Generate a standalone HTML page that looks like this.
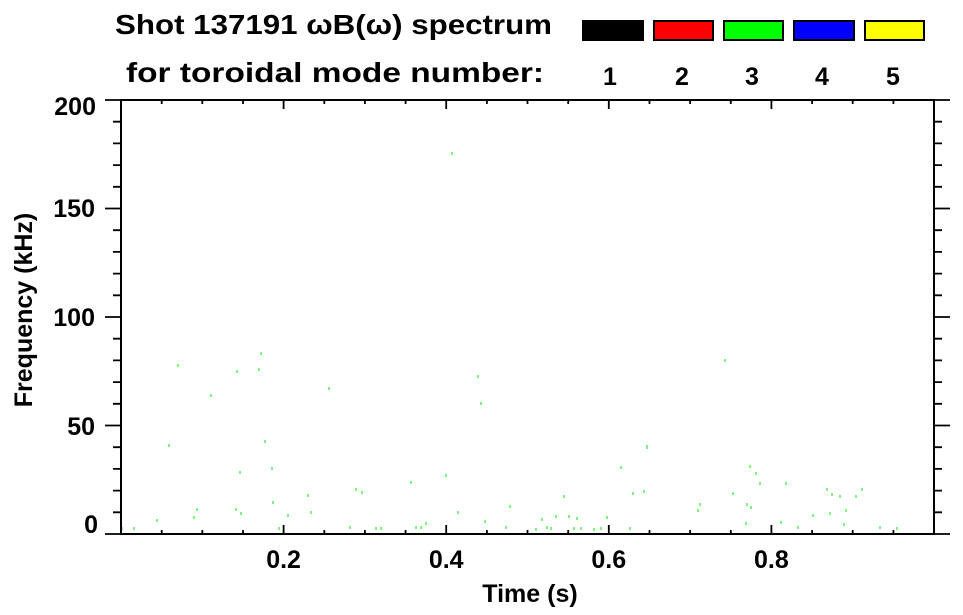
<!DOCTYPE html>
<html>
<head>
<meta charset="utf-8">
<style>
html,body{margin:0;padding:0;background:#fff;}
svg{display:block;}
text{font-family:"Liberation Sans",Arial,sans-serif;font-weight:bold;fill:#000;}
</style>
</head>
<body>
<svg width="963" height="615" viewBox="0 0 963 615" xmlns="http://www.w3.org/2000/svg">
<rect x="0" y="0" width="963" height="615" fill="#fff"/>
<text x="115" y="34" font-size="28" textLength="437" lengthAdjust="spacingAndGlyphs">Shot 137191 ωB(ω) spectrum</text>
<text x="126" y="82" font-size="28" textLength="418" lengthAdjust="spacingAndGlyphs">for toroidal mode number:</text>
<rect x="582" y="20" width="62" height="21" fill="#000"/>
<rect x="654" y="21" width="59" height="19" fill="#f00" stroke="#000" stroke-width="2"/>
<rect x="724" y="21" width="59" height="19" fill="#0f0" stroke="#000" stroke-width="2"/>
<rect x="794" y="21" width="60" height="19" fill="#00f" stroke="#000" stroke-width="2"/>
<rect x="865" y="21" width="59" height="19" fill="#ff0" stroke="#000" stroke-width="2"/>
<g font-size="25" text-anchor="middle">
<text x="610" y="85">1</text><text x="682" y="85">2</text><text x="752" y="85">3</text><text x="822" y="85">4</text><text x="893" y="85">5</text>
</g>
<path stroke="#55ee55" stroke-width="1.5" fill="none" d="M122 527v3M134 527v3M157 519v3M169 444v3M178 364v3M194 516v3M197 508v3M211 394v3M236 508v3M237 370v3M241 512v3M240 471v3M259 368v3M261 352v3M265 440v3M272 467v3M273 501v3M279 527v3M288 514v3M308 494v3M311 511v3M329 387v3M350 526v3M356 488v3M362 491v3M376 527v3M381 527v3M411 481v3M416 526v3M421 526v3M426 522v3M446 474v3M452 152v3M458 511v3M478 375v3M481 402v3M485 520v3M506 526v3M510 505v3M536 528v3M542 518v3M547 526v3M551 527v3M556 515v3M564 495v3M569 515v3M574 527v3M577 517v3M581 527v3M594 528v3M601 527v3M607 516v3M621 466v3M630 527v3M633 492v3M644 490v3M647 445v4M698 509v3M700 503v3M725 359v3M733 492v3M746 522v3M747 503v3M750 465v3M751 506v3M756 472v3M760 482v3M781 521v3M786 482v3M798 526v3M813 514v3M827 488v3M830 512v3M832 493v3M840 495v3M844 523v3M846 509v3M856 495v3M862 488v3M880 526v3M897 527v3"/>
<rect x="121" y="100" width="813" height="434" fill="none" stroke="#000" stroke-width="2"/>
<path stroke="#000" stroke-width="1.8" fill="none" d="M105 100h16M934 100h16M105 208.5h16M934 208.5h16M105 317h16M934 317h16M105 425.5h16M934 425.5h16M105 534h16M934 534h16"/>
<path stroke="#000" stroke-width="1.8" fill="none" d="M113 121.7h8M113 143.4h8M113 165.1h8M113 186.8h8M113 230.2h8M113 251.9h8M113 273.6h8M113 295.3h8M113 338.7h8M113 360.4h8M113 382.1h8M113 403.8h8M113 447.2h8M113 468.9h8M113 490.6h8M113 512.3h8M934 121.7h8M934 143.4h8M934 165.1h8M934 186.8h8M934 230.2h8M934 251.9h8M934 273.6h8M934 295.3h8M934 338.7h8M934 360.4h8M934 382.1h8M934 403.8h8M934 447.2h8M934 468.9h8M934 490.6h8M934 512.3h8"/>
<path stroke="#000" stroke-width="1.8" fill="none" d="M283.6 100v9M446.2 100v9M608.8 100v9M771.4 100v9M283.6 525v9M446.2 525v9M608.8 525v9M771.4 525v9"/>
<path stroke="#000" stroke-width="1.8" fill="none" d="M161.7 100v4M202.3 100v4M243 100v4M324.3 100v4M364.9 100v4M405.6 100v4M486.9 100v4M527.5 100v4M568.2 100v4M649.5 100v4M690.1 100v4M730.8 100v4M812.1 100v4M852.7 100v4M893.4 100v4M161.7 530v4M202.3 530v4M243 530v4M324.3 530v4M364.9 530v4M405.6 530v4M486.9 530v4M527.5 530v4M568.2 530v4M649.5 530v4M690.1 530v4M730.8 530v4M812.1 530v4M852.7 530v4M893.4 530v4"/>
<g font-size="25" text-anchor="end">
<text x="96" y="115">200</text><text x="95" y="217">150</text><text x="95" y="326">100</text><text x="95" y="435">50</text><text x="98" y="533">0</text>
</g>
<g font-size="25" text-anchor="middle">
<text x="283.6" y="568">0.2</text><text x="446.2" y="568">0.4</text><text x="608.8" y="568">0.6</text><text x="771.4" y="568">0.8</text>
</g>
<text x="530" y="602" font-size="25" text-anchor="middle">Time (s)</text>
<text x="0" y="0" font-size="25" text-anchor="middle" transform="translate(32,310) rotate(-90)">Frequency (kHz)</text>
</svg>
</body>
</html>
